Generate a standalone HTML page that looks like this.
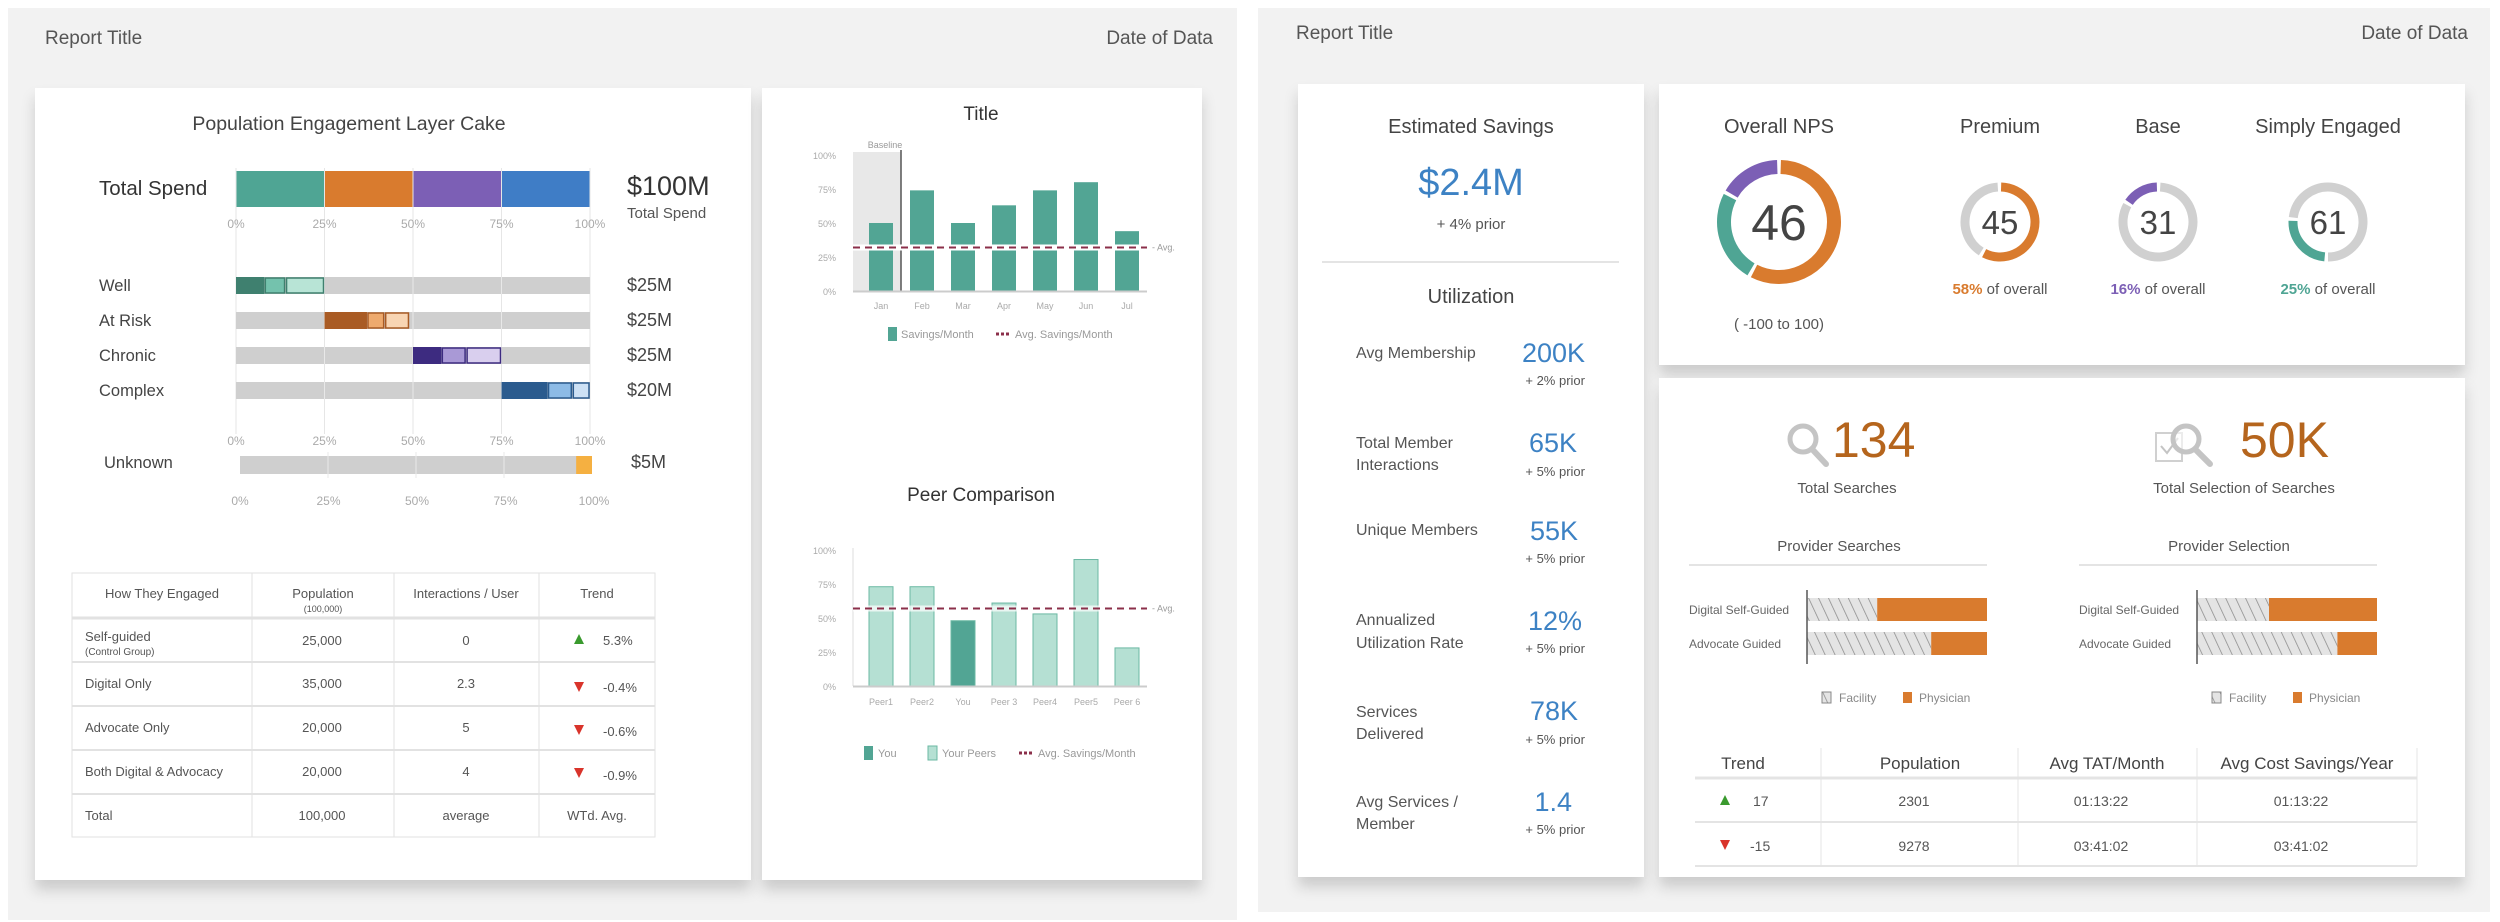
<!DOCTYPE html>
<html><head><meta charset="utf-8"><style>
html,body{margin:0;padding:0;background:#fff;width:2500px;height:922px;overflow:hidden}
svg{display:block;font-family:"Liberation Sans",sans-serif}
text{fill:#555}
</style></head><body>
<svg id="s" width="2500" height="922" viewBox="0 0 2500 922">
<defs>
<filter id="sh" x="-5%" y="-5%" width="110%" height="120%"><feDropShadow dx="0" dy="10" stdDeviation="7" flood-color="#000" flood-opacity="0.16"/></filter>
<pattern id="hatch" width="9" height="9" patternUnits="userSpaceOnUse" patternTransform="rotate(-25)"><rect width="9" height="9" fill="#e4e4e4"/><line x1="0" y1="0" x2="0" y2="9" stroke="#8a8a8a" stroke-width="1.5"/></pattern>
</defs>
<rect x="8" y="8" width="1229" height="912" fill="#f2f2f2"/>
<rect x="1258" y="8" width="1232" height="904" fill="#f2f2f2"/>
<text x="45" y="44" font-size="19">Report Title</text>
<text x="1213" y="44" font-size="19" text-anchor="end">Date of Data</text>
<text x="1296" y="39" font-size="19">Report Title</text>
<text x="2468" y="39" font-size="19" text-anchor="end">Date of Data</text>
<rect x="35" y="88" width="716" height="792" fill="#fff" filter="url(#sh)"/>
<rect x="762" y="88" width="440" height="792" fill="#fff" filter="url(#sh)"/>
<rect x="1298" y="84" width="346" height="793" fill="#fff" filter="url(#sh)"/>
<rect x="1659" y="84" width="806" height="281" fill="#fff" filter="url(#sh)"/>
<rect x="1659" y="378" width="806" height="499" fill="#fff" filter="url(#sh)"/>

<text x="349" y="130" font-size="19.5" text-anchor="middle" style="fill:#444">Population Engagement Layer Cake</text>
<text x="99" y="195" font-size="20.5" style="fill:#333">Total Spend</text>
<text x="627" y="195" font-size="27" style="fill:#333">$100M</text>
<text x="627" y="218" font-size="15">Total Spend</text>
<g id="cake"></g>

<g font-size="13">
<rect x="72" y="573" width="583" height="264" fill="#fff" stroke="#e2e2e2"/>
<line x1="72" y1="618" x2="655" y2="618" stroke="#e2e2e2" stroke-width="3"/>
<line x1="72" y1="662" x2="655" y2="662" stroke="#e2e2e2" stroke-width="2"/>
<line x1="72" y1="706" x2="655" y2="706" stroke="#e2e2e2" stroke-width="2"/>
<line x1="72" y1="750" x2="655" y2="750" stroke="#e2e2e2" stroke-width="2"/>
<line x1="72" y1="794" x2="655" y2="794" stroke="#e2e2e2" stroke-width="2"/>
<line x1="252" y1="573" x2="252" y2="837" stroke="#e2e2e2"/>
<line x1="394" y1="573" x2="394" y2="837" stroke="#e2e2e2"/>
<line x1="539" y1="573" x2="539" y2="837" stroke="#e2e2e2"/>
<text x="162" y="598" text-anchor="middle">How They Engaged</text>
<text x="323" y="598" text-anchor="middle">Population</text>
<text x="323" y="612" text-anchor="middle" font-size="9">(100,000)</text>
<text x="466" y="598" text-anchor="middle">Interactions / User</text>
<text x="597" y="598" text-anchor="middle">Trend</text>
<text x="85" y="641">Self-guided</text><text x="85" y="655" font-size="10">(Control Group)</text>
<text x="85" y="688">Digital Only</text>
<text x="85" y="732">Advocate Only</text>
<text x="85" y="776">Both Digital &amp; Advocacy</text>
<text x="85" y="820">Total</text>
<text x="322" y="645" text-anchor="middle">25,000</text><text x="322" y="688" text-anchor="middle">35,000</text><text x="322" y="732" text-anchor="middle">20,000</text><text x="322" y="776" text-anchor="middle">20,000</text><text x="322" y="820" text-anchor="middle">100,000</text>
<text x="466" y="645" text-anchor="middle">0</text><text x="466" y="688" text-anchor="middle">2.3</text><text x="466" y="732" text-anchor="middle">5</text><text x="466" y="776" text-anchor="middle">4</text><text x="466" y="820" text-anchor="middle">average</text>
<polygon points="579,634 574,644 584,644" fill="#3a9a2e"/><text x="603" y="645">5.3%</text>
<polygon points="574,682 584,682 579,692" fill="#d9342b"/><text x="603" y="692">-0.4%</text>
<polygon points="574,725 584,725 579,735" fill="#d9342b"/><text x="603" y="736">-0.6%</text>
<polygon points="574,768 584,768 579,778" fill="#d9342b"/><text x="603" y="780">-0.9%</text>
<text x="597" y="820" text-anchor="middle">WTd. Avg.</text>
</g>

<text x="981" y="120" font-size="19" text-anchor="middle" style="fill:#333">Title</text>
<g id="sav"></g>
<text x="981" y="501" font-size="19" text-anchor="middle" style="fill:#333">Peer Comparison</text>
<g id="peer"></g>

<g>
<text x="1471" y="133" font-size="20" text-anchor="middle" style="fill:#444">Estimated Savings</text>
<text x="1471" y="195" font-size="38" text-anchor="middle" style="fill:#3d82c4">$2.4M</text>
<text x="1471" y="229" font-size="15" text-anchor="middle">+ 4% prior</text>
<line x1="1322" y1="262" x2="1619" y2="262" stroke="#e4e4e4" stroke-width="2"/>
<text x="1471" y="303" font-size="20" text-anchor="middle" style="fill:#444">Utilization</text>
</g>
<g font-size="16">
<text x="1356" y="358">Avg Membership</text>
<text x="1585" y="362" font-size="27" text-anchor="end" style="fill:#3d82c4">200K</text><text x="1585" y="385" font-size="13" text-anchor="end">+ 2% prior</text>
<text x="1356" y="448">Total Member</text><text x="1356" y="470">Interactions</text>
<text x="1577" y="452" font-size="27" text-anchor="end" style="fill:#3d82c4">65K</text><text x="1585" y="476" font-size="13" text-anchor="end">+ 5% prior</text>
<text x="1356" y="535">Unique Members</text>
<text x="1578" y="540" font-size="27" text-anchor="end" style="fill:#3d82c4">55K</text><text x="1585" y="563" font-size="13" text-anchor="end">+ 5% prior</text>
<text x="1356" y="625">Annualized</text><text x="1356" y="648">Utilization Rate</text>
<text x="1582" y="630" font-size="27" text-anchor="end" style="fill:#3d82c4">12%</text><text x="1585" y="653" font-size="13" text-anchor="end">+ 5% prior</text>
<text x="1356" y="717">Services</text><text x="1356" y="739">Delivered</text>
<text x="1578" y="720" font-size="27" text-anchor="end" style="fill:#3d82c4">78K</text><text x="1585" y="744" font-size="13" text-anchor="end">+ 5% prior</text>
<text x="1356" y="807">Avg Services /</text><text x="1356" y="829">Member</text>
<text x="1572" y="811" font-size="27" text-anchor="end" style="fill:#3d82c4">1.4</text><text x="1585" y="834" font-size="13" text-anchor="end">+ 5% prior</text>
</g>

<g id="nps"></g>
<text x="1779" y="133" font-size="20" text-anchor="middle" style="fill:#444">Overall NPS</text>
<text x="2000" y="133" font-size="20" text-anchor="middle" style="fill:#444">Premium</text>
<text x="2158" y="133" font-size="20" text-anchor="middle" style="fill:#444">Base</text>
<text x="2328" y="133" font-size="20" text-anchor="middle" style="fill:#444">Simply Engaged</text>
<text x="1779" y="329" font-size="15" text-anchor="middle">( -100 to 100)</text>

<g>
<circle cx="1803" cy="439" r="13" fill="none" stroke="#c4c4c4" stroke-width="5"/><line x1="1812" y1="449" x2="1826" y2="464" stroke="#c4c4c4" stroke-width="6" stroke-linecap="round"/>
<text x="1832" y="457" font-size="50" style="fill:#b5651d">134</text>
<text x="1847" y="493" font-size="15" text-anchor="middle">Total Searches</text>
</g>
<g>
<rect x="2156" y="433" width="26" height="28" fill="none" stroke="#d0d0d0" stroke-width="2"/><polyline points="2161,446 2167,453 2178,438" fill="none" stroke="#c4c4c4" stroke-width="2"/>
<circle cx="2186" cy="439" r="13" fill="#fff" fill-opacity="0.6" stroke="#c4c4c4" stroke-width="5"/><line x1="2195" y1="449" x2="2210" y2="464" stroke="#c4c4c4" stroke-width="6" stroke-linecap="round"/>
<text x="2240" y="457" font-size="50" style="fill:#b5651d">50K</text>
<text x="2244" y="493" font-size="15" text-anchor="middle">Total Selection of Searches</text>
</g>
<g id="prov"></g>

<g font-size="17">
<line x1="1695" y1="778" x2="2417" y2="778" stroke="#e4e4e4" stroke-width="3"/>
<line x1="1695" y1="822" x2="2417" y2="822" stroke="#e4e4e4" stroke-width="2"/>
<line x1="1695" y1="866" x2="2417" y2="866" stroke="#e4e4e4" stroke-width="2"/>
<line x1="1821" y1="748" x2="1821" y2="866" stroke="#e4e4e4"/>
<line x1="2018" y1="748" x2="2018" y2="866" stroke="#e4e4e4"/>
<line x1="2197" y1="748" x2="2197" y2="866" stroke="#e4e4e4"/>
<line x1="2417" y1="748" x2="2417" y2="866" stroke="#e4e4e4"/>
<text x="1743" y="769" text-anchor="middle" style="fill:#444">Trend</text>
<text x="1920" y="769" text-anchor="middle" style="fill:#444">Population</text>
<text x="2107" y="769" text-anchor="middle" style="fill:#444">Avg TAT/Month</text>
<text x="2307" y="769" text-anchor="middle" style="fill:#444">Avg Cost Savings/Year</text>
<g font-size="14">
<polygon points="1725,795 1720,805 1730,805" fill="#3a9a2e"/><text x="1753" y="806">17</text>
<text x="1914" y="806" text-anchor="middle">2301</text><text x="2101" y="806" text-anchor="middle">01:13:22</text><text x="2301" y="806" text-anchor="middle">01:13:22</text>
<polygon points="1720,840 1730,840 1725,850" fill="#d9342b"/><text x="1750" y="851">-15</text>
<text x="1914" y="851" text-anchor="middle">9278</text><text x="2101" y="851" text-anchor="middle">03:41:02</text><text x="2301" y="851" text-anchor="middle">03:41:02</text>
</g></g>
</svg>
<script>
var NS='http://www.w3.org/2000/svg';
// ---- layer cake data
var cakeTicks=['0%','25%','50%','75%','100%'];
var totalShares=[25,25,25,25];
var segNames=['Well','At Risk','Chronic','Complex'];
var segValues=['$25M','$25M','$25M','$20M'];
var segStart=[0,25,50,75];
var segDark=[8,12,8,13];
var segMid=[6,5,7,7];
var segLight=[11,7,10,5];
var unknownShare=[4.5];
var unknownValue=['$5M'];
// ---- savings chart data
var months=['Jan','Feb','Mar','Apr','May','Jun','Jul'];
var savingsValues=[50,74,50,63,74,80,44];
var savingsAvg=[32];
var pctTicks=['0%','25%','50%','75%','100%'];
// ---- peer data
var peerNames=['Peer1','Peer2','You','Peer 3','Peer4','Peer5','Peer 6'];
var peerValues=[73,73,48,61,53,93,28];
var peerAvg=[57];
// ---- NPS data
var npsOverall=[58,25,17];
var npsGroupNames=['Premium','Base','Simply Engaged'];
var npsGroupScores=['45','31','61'];
var npsGroupShares=[58,16,25];
// ---- provider data
var provRows=['Digital Self-Guided','Advocate Guided'];
var searchFacility=[39,69];
var selectionFacility=[40,78];

function mk(tag,attrs,parent){var e=document.createElementNS(NS,tag);for(var k in attrs)e.setAttribute(k,attrs[k]);parent.appendChild(e);return e;}
function tx(x,y,str,attrs,parent){var e=mk('text',Object.assign({x:x,y:y},attrs),parent);e.textContent=str;return e;}

// layer cake
var cake=document.getElementById('cake');
function cx(p){return 236+p/100*354;}
var colDark=['#3f806f','#a95b24','#3d2b80','#2b5b8e'];
var colMid=['#74c2ad','#eeaa6e','#a999d6','#8dbbe6'];
var colLight=['#b8e4d6','#f8d5b3','#d9cfee','#cde1f5'];
var colTotal=['#4fa594','#d97b2e','#7c5fb5','#3f7dc6'];
var acc=0;
for(var i=0;i<totalShares.length;i++){
  var r=mk('rect',{x:cx(acc),y:171,width:cx(acc+totalShares[i])-cx(acc),height:36,fill:colTotal[i]},cake);
  
  
  acc+=totalShares[i];
}
for(var t=0;t<cakeTicks.length;t++){
  var p=t*25;
  var g=mk('line',{x1:cx(p),y1:168,x2:cx(p),y2:434,stroke:'#e6e6e6','stroke-width':1},cake);
  
  
  var a=tx(cx(p),228,cakeTicks[t],{'font-size':12,'text-anchor':'middle',style:'fill:#aaa'},cake);
  
  
  var b=tx(cx(p),445,cakeTicks[t],{'font-size':12,'text-anchor':'middle',style:'fill:#aaa'},cake);
  
  
  var c=tx(cx(p)+4,505,cakeTicks[t],{'font-size':12,'text-anchor':'middle',style:'fill:#aaa'},cake);
  
  
}
for(var i=0;i<segNames.length;i++){
  var y=277+i*35;
  var bg=mk('rect',{x:cx(0),y:y,width:cx(100)-cx(0),height:17,fill:'#cfcfcf'},cake);
  
  
  for(var t=1;t<4;t++){var gl=mk('line',{x1:cx(t*25),y1:y,x2:cx(t*25),y2:y+17,stroke:'#e8e8e8'},cake);}
  var s=segStart[i];
  var d=mk('rect',{x:cx(s),y:y,width:cx(s+segDark[i])-cx(s),height:17,fill:colDark[i]},cake);
  
  
  s+=segDark[i];
  var m=mk('rect',{x:cx(s)+1,y:y+1,width:cx(s+segMid[i])-cx(s)-2,height:15,fill:colMid[i],stroke:colDark[i],'stroke-width':1.5},cake);
  
  
  s+=segMid[i];
  var l=mk('rect',{x:cx(s)+1,y:y+1,width:cx(s+segLight[i])-cx(s)-2,height:15,fill:colLight[i],stroke:colDark[i],'stroke-width':1.5},cake);
  
  
  var nm=tx(99,y+14,segNames[i],{'font-size':16.5,style:'fill:#444'},cake);
  
  
  var vv=tx(627,y+14,segValues[i],{'font-size':18,style:'fill:#444'},cake);
  
  
}
function ux(p){return 240+p/100*352;}
var ut=mk('rect',{x:ux(0),y:456,width:352,height:18,fill:'#cfcfcf'},cake);


for(var t=1;t<4;t++){var ul=mk('line',{x1:ux(t*25),y1:452,x2:ux(t*25),y2:478,stroke:'#e8e8e8'},cake);}
var uk=mk('rect',{x:ux(100-unknownShare[0]),y:456,width:ux(100)-ux(100-unknownShare[0]),height:18,fill:'#f5b041'},cake);


var ul2=tx(104,468,'Unknown',{'font-size':16.5,style:'fill:#444'},cake);


var uv=tx(631,468,unknownValue[0],{'font-size':18,style:'fill:#444'},cake);



// savings chart
var sav=document.getElementById('sav');
function bx(i){return 869+i*41;}
function sy(v){return 291-v/100*136;}
var base=mk('rect',{x:853,y:152,width:48,height:139,fill:'#e8e8e8'},sav);


var bl=mk('line',{x1:901,y1:150,x2:901,y2:291,stroke:'#555','stroke-width':1.5},sav);


var blt=tx(885,148,'Baseline',{'font-size':9,'text-anchor':'middle',style:'fill:#999'},sav);


for(var t=0;t<pctTicks.length;t++){
  var yl=tx(836,sy(t*25)+4,pctTicks[t],{'font-size':9,'text-anchor':'end',style:'fill:#aaa'},sav);
  
  
}
for(var i=0;i<months.length;i++){
  var br=mk('rect',{x:bx(i),y:sy(savingsValues[i]),width:24,height:sy(0)-sy(savingsValues[i]),fill:'#52a594'},sav);
  
  
  var ml=tx(bx(i)+12,309,months[i],{'font-size':9,'text-anchor':'middle',style:'fill:#aaa'},sav);
  
  
}
var ax=mk('line',{x1:853,y1:291.5,x2:1147,y2:291.5,stroke:'#ccc','stroke-width':2},sav);


mk('line',{x1:853,y1:sy(savingsAvg[0]),x2:1147,y2:sy(savingsAvg[0]),stroke:'#fff','stroke-width':6},sav);
var av=mk('line',{x1:853,y1:sy(savingsAvg[0]),x2:1147,y2:sy(savingsAvg[0]),stroke:'#8b2f4a','stroke-width':2,'stroke-dasharray':'7 5'},sav);


var avl=tx(1152,sy(savingsAvg[0])+3,'- Avg.',{'font-size':9,style:'fill:#999'},sav);


var lg1=mk('rect',{x:888,y:327,width:9,height:14,fill:'#52a594'},sav);


tx(901,338,'Savings/Month',{'font-size':11,style:'fill:#999'},sav);
var lg2=mk('line',{x1:996,y1:334,x2:1011,y2:334,stroke:'#8b2f4a','stroke-width':3,'stroke-dasharray':'3 2'},sav);


tx(1015,338,'Avg. Savings/Month',{'font-size':11,style:'fill:#999'},sav);

// peer chart
var peer=document.getElementById('peer');
function py(v){return 686-v/100*136;}
for(var t=0;t<pctTicks.length;t++){
  var yl=tx(836,py(t*25)+4,pctTicks[t],{'font-size':9,'text-anchor':'end',style:'fill:#aaa'},peer);
  
  
}
var pya=mk('line',{x1:853,y1:548,x2:853,y2:686,stroke:'#ddd'},peer);


for(var i=0;i<peerNames.length;i++){
  var you=peerNames[i]==='You';
  var pb=mk('rect',{x:bx(i),y:py(peerValues[i]),width:24,height:py(0)-py(peerValues[i]),fill:you?'#52a594':'#b5e0d3',stroke:'#6bb8a3','stroke-width':1},peer);
  
  
  var pl=tx(bx(i)+12,705,peerNames[i],{'font-size':9,'text-anchor':'middle',style:'fill:#aaa'},peer);
  
  
}
var pax=mk('line',{x1:853,y1:686.5,x2:1147,y2:686.5,stroke:'#ccc','stroke-width':2},peer);


mk('line',{x1:853,y1:py(peerAvg[0]),x2:1147,y2:py(peerAvg[0]),stroke:'#fff','stroke-width':6,'stroke-opacity':0.7},peer);
var pav=mk('line',{x1:853,y1:py(peerAvg[0]),x2:1147,y2:py(peerAvg[0]),stroke:'#8b2f4a','stroke-width':2,'stroke-dasharray':'7 5'},peer);


var pavl=tx(1152,py(peerAvg[0])+3,'- Avg.',{'font-size':9,style:'fill:#999'},peer);


var pl1=mk('rect',{x:864,y:746,width:9,height:14,fill:'#52a594'},peer);


tx(878,757,'You',{'font-size':11,style:'fill:#999'},peer);
var pl2=mk('rect',{x:928,y:746,width:9,height:14,fill:'#b5e0d3',stroke:'#6bb8a3'},peer);


tx(942,757,'Your Peers',{'font-size':11,style:'fill:#999'},peer);
var pl3=mk('line',{x1:1019,y1:753,x2:1034,y2:753,stroke:'#8b2f4a','stroke-width':3,'stroke-dasharray':'3 2'},peer);


tx(1038,757,'Avg. Savings/Month',{'font-size':11,style:'fill:#999'},peer);

// NPS donuts
var nps=document.getElementById('nps');
function arc(cx,cy,r,p0,p1){
  var a0=p0/100*2*Math.PI-Math.PI/2,a1=p1/100*2*Math.PI-Math.PI/2;
  var large=(p1-p0)>50?1:0;
  return 'M'+(cx+r*Math.cos(a0))+' '+(cy+r*Math.sin(a0))+' A'+r+' '+r+' 0 '+large+' 1 '+(cx+r*Math.cos(a1))+' '+(cy+r*Math.sin(a1));
}
var npsColors=['#d97b2e','#4fa594','#7c5fb5'];
var a0=0;
for(var i=0;i<npsOverall.length;i++){
  var seg=mk('path',{d:arc(1779,222,55,a0+0.5,a0+npsOverall[i]-0.5),fill:'none',stroke:npsColors[i],'stroke-width':14},nps);
  
  
  a0+=npsOverall[i];
}
var big=tx(1779,240,'46',{'font-size':50,'text-anchor':'middle',style:'fill:#444'},nps);


var gx=[2000,2158,2328];
var gcol=['#d97b2e','#7c5fb5','#4fa594'];
var gstart=[0,100-npsGroupShares[1],76-npsGroupShares[2]];
for(var i=0;i<npsGroupNames.length;i++){
  var s0=gstart[i],s1=gstart[i]+npsGroupShares[i];
  var trk=mk('path',{d:arc(gx[i],222,35,s1+1,s0+100-1),fill:'none',stroke:'#d0d0d0','stroke-width':9},nps);
  
  
  var sg=mk('path',{d:arc(gx[i],222,35,s0+0.5,s1-0.5),fill:'none',stroke:gcol[i],'stroke-width':9},nps);
  
  
  var sc=tx(gx[i],234,npsGroupScores[i],{'font-size':33,'text-anchor':'middle',style:'fill:#444'},nps);
  
  
  var sub=mk('text',{x:gx[i],y:294,'font-size':15,'text-anchor':'middle'},nps);
  
  
  var ts=document.createElementNS(NS,'tspan');ts.setAttribute('style','fill:'+gcol[i]+';font-weight:bold');ts.textContent=npsGroupShares[i]+'%';sub.appendChild(ts);
  var ts2=document.createElementNS(NS,'tspan');ts2.textContent=' of overall';sub.appendChild(ts2);
}

// provider bars
var prov=document.getElementById('prov');
function provChart(title,x0,facility,prefix){
  var cxm=x0+150;
  var tt=tx(cxm,551,title,{'font-size':15,'text-anchor':'middle'},prov);
  
  
  var ln=mk('line',{x1:x0,y1:565,x2:x0+298,y2:565,stroke:'#e4e4e4','stroke-width':2},prov);
  
  
  var axl=x0+118,w=180;
  for(var i=0;i<provRows.length;i++){
    var y=598+i*34;
    var fr=mk('rect',{x:axl,y:y,width:w*facility[i]/100,height:23,fill:'url(#hatch)'},prov);
    
    
    var ph=mk('rect',{x:axl+w*facility[i]/100,y:y,width:w*(100-facility[i])/100,height:23,fill:'#d97b2e'},prov);
    
    
    var lb=tx(x0,y+16,provRows[i],{'font-size':12,style:'fill:#666'},prov);
    
    
  }
  var al=mk('line',{x1:axl,y1:590,x2:axl,y2:664,stroke:'#555','stroke-width':1.5},prov);
  
  
  var lx=x0+133;
  var s1=mk('rect',{x:lx,y:692,width:9,height:11,fill:'url(#hatch)',stroke:'#888'},prov);
  
  
  tx(lx+17,702,'Facility',{'font-size':12,style:'fill:#888'},prov);
  var s2=mk('rect',{x:lx+81,y:692,width:9,height:11,fill:'#d97b2e'},prov);
  
  
  tx(lx+97,702,'Physician',{'font-size':12,style:'fill:#888'},prov);
}
provChart('Provider Searches',1689,searchFacility,'provider-searches');
provChart('Provider Selection',2079,selectionFacility,'provider-selection');
</script>
</body></html>
